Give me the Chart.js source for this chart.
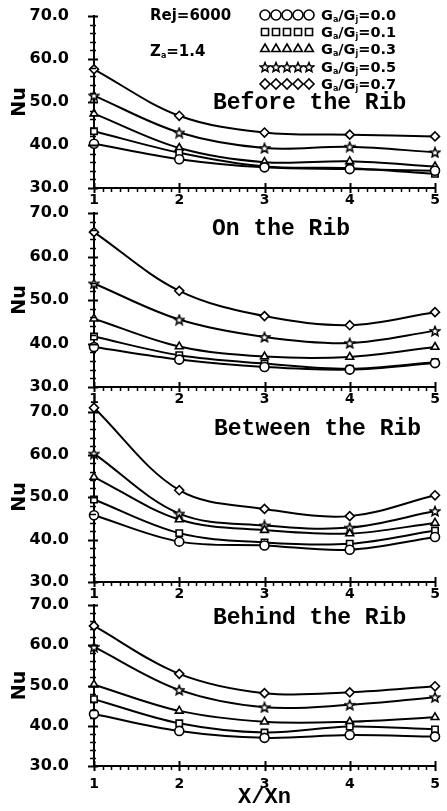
<!DOCTYPE html>
<html>
<head>
<meta charset="utf-8">
<script src="https://cdn.jsdelivr.net/npm/chart.js@4/dist/chart.umd.min.js"></script>
<style>
  body { margin: 0; background: #fff; }
  #wrap { position: relative; width: 447px; height: 811px; overflow: hidden; }
  canvas { position: absolute; left: 0; }
  .note { position: absolute; font-family: "DejaVu Sans", sans-serif; font-weight: bold; font-size: 14.5px; line-height: 1; color: #000; white-space: nowrap; z-index: 10; }
  .note sub { font-size: 8px; vertical-align: -2px; }
  .big { font-size: 15px; }
  .title { position: absolute; font-family: "Liberation Mono", monospace; font-weight: bold; font-size: 23px; line-height: 1; color: #000; white-space: nowrap; z-index: 10; }
</style>
</head>
<body>
<div id="wrap">
  <canvas id="p1" width="447" height="212" style="top:6px; z-index:4"></canvas>
  <canvas id="p2" width="447" height="214" style="top:203px; z-index:3"></canvas>
  <canvas id="p3" width="447" height="210" style="top:402px; z-index:2"></canvas>
  <canvas id="p4" width="447" height="216" style="top:595px; z-index:1"></canvas>

  <div class="note big" style="left:150px; top:8px">Rej=6000</div>
  <div class="note big" style="left:150px; top:44px">Z<sub>a</sub>=1.4</div>
  <div class="note" style="left:321px; top:8px">G<sub>a</sub>/G<sub>j</sub>=0.0</div>
  <div class="note" style="left:321px; top:25px">G<sub>a</sub>/G<sub>j</sub>=0.1</div>
  <div class="note" style="left:321px; top:42px">G<sub>a</sub>/G<sub>j</sub>=0.3</div>
  <div class="note" style="left:321px; top:60px">G<sub>a</sub>/G<sub>j</sub>=0.5</div>
  <div class="note" style="left:321px; top:77px">G<sub>a</sub>/G<sub>j</sub>=0.7</div>

  <div class="title" style="left:213px; top:92px">Before the Rib</div>
  <div class="title" style="left:212px; top:218px">On the Rib</div>
  <div class="title" style="left:214px; top:418px">Between the Rib</div>
  <div class="title" style="left:213px; top:607px">Behind the Rib</div>
</div>
<script>
const xValues = [1, 2, 3, 4, 5];
const ratioLabels = ["0.0", "0.1", "0.3", "0.5", "0.7"];

// Nu at X/Xn = 1..5, one row per Ga/Gj
const beforeRib = [
  [40.3, 36.7, 34.8, 34.4, 34.0],
  [43.2, 38.2, 35.0, 34.6, 33.3],
  [47.3, 39.3, 36.0, 36.2, 35.0],
  [51.5, 42.9, 39.3, 39.6, 38.3],
  [57.6, 46.8, 42.9, 42.4, 42.0],
];
const onRib = [
  [39.2, 36.3, 34.6, 34.0, 35.5],
  [41.6, 37.3, 35.4, 34.2, 35.7],
  [45.7, 39.3, 37.0, 36.9, 39.2],
  [53.8, 45.5, 41.5, 40.1, 42.9],
  [65.6, 52.1, 46.3, 44.2, 47.2],
];
const betweenRib = [
  [45.7, 39.5, 38.6, 37.6, 40.6],
  [49.4, 41.5, 39.3, 39.0, 42.1],
  [54.7, 44.7, 42.2, 41.4, 43.9],
  [60.2, 46.1, 43.3, 42.8, 46.7],
  [71.0, 51.6, 47.2, 45.5, 50.4],
];
const behindRib = [
  [42.9, 38.7, 37.0, 37.7, 37.3],
  [46.6, 40.6, 38.3, 39.8, 39.1],
  [50.2, 43.7, 41.0, 41.0, 42.1],
  [59.6, 48.9, 44.6, 45.2, 47.1],
  [64.8, 52.9, 48.1, 48.3, 49.8],
];

// open five-point star, the built-in "star" is an asterisk
function openStar(size) {
  const c = document.createElement("canvas");
  c.width = size; c.height = size;
  const g = c.getContext("2d");
  const cx = size / 2, cy = size / 2 + 0.5, ro = size / 2 - 1, ri = ro * 0.45;
  g.beginPath();
  for (let i = 0; i < 10; i++) {
    const r = i % 2 ? ri : ro;
    const a = -Math.PI / 2 + i * Math.PI / 5;
    g[i ? "lineTo" : "moveTo"](cx + r * Math.cos(a), cy + r * Math.sin(a));
  }
  g.closePath();
  g.fillStyle = "#fff";
  g.fill();
  g.lineWidth = 1.5;
  g.strokeStyle = "#000";
  g.stroke();
  return c;
}
const starMark = openStar(12);
const markers = ["circle", "rect", "triangle", starMark, "rectRot"];

const tickFont = { family: "DejaVu Sans", weight: "bold", size: 16 };

// legend marker rows in the top panel
const legendMarks = {
  id: "legendMarks",
  afterDraw(chart) {
    const ctx = chart.ctx;
    const rows = [9, 26, 43, 61, 78];
    ctx.save();
    ctx.strokeStyle = "#000";
    ctx.fillStyle = "#fff";
    markers.forEach((m, r) => {
      for (let k = 0; k < 5; k++) {
        Chart.helpers.drawPoint(ctx, { pointStyle: m, radius: 5, borderWidth: 1.6, rotation: 0 }, 265 + k * 11, rows[r]);
      }
    });
    ctx.restore();
  },
};

// small tick marks along both axes: x every 0.1, y every 2
const axisTicks = {
  id: "axisTicks",
  afterDraw(chart) {
    const { ctx, scales: { x, y }, chartArea: a } = chart;
    ctx.save();
    ctx.strokeStyle = "#000";
    for (let i = 10; i <= 50; i++) {
      const px = Math.round(x.getPixelForValue(i / 10)) + 0.5;
      const major = i % 10 === 0;
      ctx.lineWidth = major ? 2 : 1.5;
      ctx.beginPath();
      ctx.moveTo(px, a.bottom - (major ? 5 : 0));
      ctx.lineTo(px, a.bottom + (major ? 5 : 4));
      ctx.stroke();
    }
    for (let v = 30; v <= 70; v += 2) {
      const py = Math.round(y.getPixelForValue(v)) + 0.5;
      const major = v % 10 === 0;
      ctx.lineWidth = major ? 2 : 1.5;
      ctx.beginPath();
      ctx.moveTo(a.left - (major ? 6 : 4), py);
      ctx.lineTo(a.left + (major ? 4 : 2), py);
      ctx.stroke();
    }
    ctx.restore();
  },
};

function makePanel(id, rows, last, extra) {
  const datasets = rows.map((vals, i) => ({
    label: "Ga/Gj=" + ratioLabels[i],
    data: xValues.map((x, j) => ({ x, y: vals[j] })),
    borderColor: "#000",
    borderWidth: 2,
    backgroundColor: "#fff",
    pointStyle: markers[i],
    pointRadius: 4.5,
    pointBorderWidth: 1.6,
    pointBorderColor: "#000",
    pointBackgroundColor: "#fff",
    tension: 0.35,
    clip: false,
  }));
  return new Chart(document.getElementById(id), {
    type: "line",
    data: { datasets },
    plugins: extra ? [axisTicks, extra] : [axisTicks],
    options: {
      responsive: false,
      animation: false,
      layout: { padding: { top: 10, left: 9, right: 12, bottom: 0 } },
      plugins: { legend: { display: false }, tooltip: { enabled: false } },
      scales: {
        x: {
          type: "linear", min: 1, max: 5,
          border: { color: "#000", width: 2 },
          grid: { display: false },
          ticks: {
            stepSize: 1, maxRotation: 0, padding: last ? 2 : -4,
            color: "#000", font: { ...tickFont, size: 14 },
          },
          title: last
            ? { display: true, text: "X/Xn", color: "#000", padding: 0,
                font: { family: "Liberation Mono", weight: "bold", size: 22 } }
            : { display: false },
          afterFit: (s) => {
            s.height = last ? 45 : 30;
            s.paddingLeft = 0; s.paddingRight = 0;
          },
        },
        y: {
          min: 30, max: 70,
          border: { color: "#000", width: 2 },
          grid: { display: false },
          ticks: {
            stepSize: 10, padding: 17,
            color: "#000", font: tickFont,
            callback: (v) => v.toFixed(1),
          },
          title: { display: true, text: "Nu", color: "#000", padding: 0,
            font: { family: "DejaVu Sans", weight: "bold", size: 19 } },
          afterFit: (s) => {
            s.width = 85;
            s.paddingTop = 0; s.paddingBottom = 0;
          },
        },
      },
    },
  });
}

makePanel("p1", beforeRib, false, legendMarks);
makePanel("p2", onRib, false);
makePanel("p3", betweenRib, false);
makePanel("p4", behindRib, true);
</script>
</body>
</html>
